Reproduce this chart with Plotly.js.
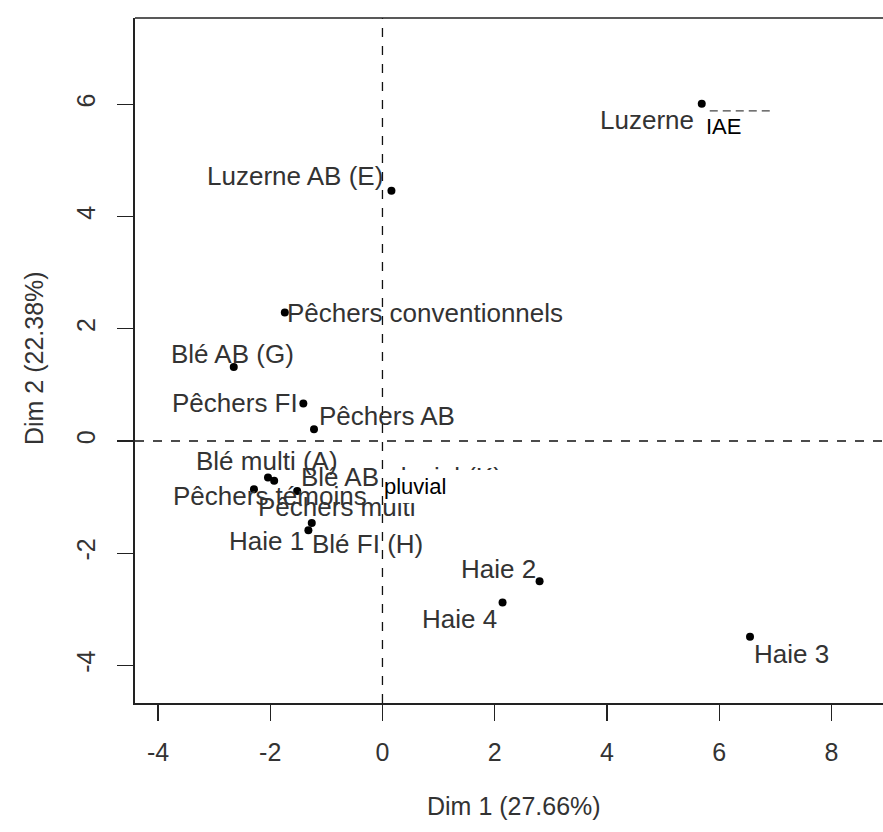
<!DOCTYPE html>
<html>
<head>
<meta charset="utf-8">
<script src="https://cdn.plot.ly/plotly-3.0.1.min.js"></script>
<style>html,body{margin:0;padding:0;background:#fff;}</style>
</head>
<body>
<div id="chart" style="width:883px;height:832px;"></div>
<script>
// ---- data ----
const names = ["Luzerne IAE", "Luzerne AB (E)", "Pêchers conventionnels", "Blé AB (G)", "Pêchers FI",
  "Pêchers AB", "Blé multi (A)", "Blé AB pluvial (K)", "Pêchers témoins", "Pêchers multi",
  "Blé FI (H)", "Haie 1", "Haie 2", "Haie 4", "Haie 3"];
const dim1 = [5.69, 0.16, -1.74, -2.65, -1.41, -1.22, -2.04, -1.93, -2.29, -1.52, -1.26, -1.32, 2.80, 2.14, 6.55];
const dim2 = [6.01, 4.46, 2.29, 1.32, 0.67, 0.21, -0.65, -0.71, -0.86, -0.89, -1.46, -1.59, -2.50, -2.88, -3.49];
// label text as drawn (the first label is partly covered in the original)
const labelText = ["Luzerne", "Luzerne AB (E)", "Pêchers conventionnels", "Blé AB (G)", "Pêchers FI",
  "Pêchers AB", "Blé multi (A)", "Blé AB pluvial (K)", "Pêchers témoins", "Pêchers multi",
  "Blé FI (H)", "Haie 1", "Haie 2", "Haie 4", "Haie 3"];
const xTickVals = [-4, -2, 0, 2, 4, 6, 8];
const xTickText = ["-4", "-2", "0", "2", "4", "6", "8"];
const yTickVals = [-4, -2, 0, 2, 4, 6];
const yTickText = ["-4", "-2", "0", "2", "4", "6"];
const xTitle = "Dim 1 (27.66%)";
const yTitle = "Dim 2 (22.38%)";

// ---- label placement (pixels relative to the point) ----
const labelAnchor = ["right", "right", "left", "center", "right", "left", "center", "left", "left", "left", "left", "right", "right", "right", "left"];
const labelDx = [-8, -8, 2, -1, -5, 5, -1, 27, -81, -39, 0, -4, -4, -6, 4];
const labelDy = [16, -15, 0, -13, 0, -13, -16, -4, 7, 16, 21, 11, -12, 16, 17];

const FONT = "'Liberation Sans', Arial, sans-serif";
const TXT = "#333";

const annotations = [];
for (let i = 0; i < names.length; i++) {
  annotations.push({
    x: dim1[i], y: dim2[i], xref: "x", yref: "y",
    text: labelText[i], showarrow: false,
    xanchor: labelAnchor[i], yanchor: "middle",
    xshift: labelDx[i], yshift: -labelDy[i],
    borderpad: 0, borderwidth: 0,
    font: {family: FONT, size: 26, color: TXT}
  });
}
// white overlay boxes with black text (as in the reference)
annotations.push({
  x: dim1[7], y: dim2[7], xref: "x", yref: "y", text: "pluvial", showarrow: false,
  xanchor: "left", yanchor: "top", xshift: 110, yshift: 11,
  width: 176, height: 33, align: "left", valign: "middle",
  bgcolor: "#ffffff", borderpad: 0, borderwidth: 0,
  font: {family: "Arial, 'Liberation Sans', sans-serif", size: 22, color: "#000"}
});
annotations.push({
  x: dim1[0], y: dim2[0], xref: "x", yref: "y", text: "IAE", showarrow: false,
  xanchor: "left", yanchor: "top", xshift: 4, yshift: -9,
  width: 96, height: 26, align: "left", valign: "middle",
  bgcolor: "#ffffff", borderpad: 0, borderwidth: 0,
  font: {family: "Arial, 'Liberation Sans', sans-serif", size: 22, color: "#000"}
});
// axis titles
annotations.push({
  xref: "paper", yref: "paper", x: 0.507, y: -0.150, text: xTitle, showarrow: false,
  xanchor: "center", yanchor: "middle", font: {family: FONT, size: 25, color: TXT}
});
annotations.push({
  xref: "paper", yref: "paper", x: -0.136, y: 0.504, text: yTitle, showarrow: false,
  textangle: -90, xanchor: "center", yanchor: "middle", font: {family: FONT, size: 25, color: TXT}
});

const shapes = [
  {type: "line", xref: "x", yref: "paper", x0: 0, x1: 0, y0: 0, y1: 1,
   line: {color: "#111", width: 1.3, dash: "dash"}},
  {type: "line", xref: "paper", yref: "y", x0: 0, x1: 1, y0: 0, y1: 0,
   line: {color: "#111", width: 1.3, dash: "dash"}},
  {type: "line", xref: "paper", yref: "paper", x0: 0, x1: 1, y0: 1, y1: 1,
   line: {color: "#222", width: 1.6}},
  // remnant of the hidden label under the "IAE" box
  {type: "line", xref: "x", yref: "y", xsizemode: "pixel", ysizemode: "pixel",
   xanchor: dim1[0], yanchor: dim2[0], x0: 8, x1: 70, y0: -7, y1: -7,
   line: {color: "#444", width: 1.4, dash: "8px,5px"}}
];

const trace = {
  type: "scatter", mode: "markers", x: dim1, y: dim2, text: names,
  marker: {color: "#000", size: 8}, hoverinfo: "text", cliponaxis: false
};

const layout = {
  width: 883, height: 832,
  margin: {l: 135, r: 0, t: 18, b: 129},
  paper_bgcolor: "#fff", plot_bgcolor: "#fff",
  showlegend: false,
  xaxis: {
    range: [-4.41, 8.92], tickvals: xTickVals, ticktext: xTickText,
    showgrid: false, zeroline: false, showline: true, linecolor: "#222", linewidth: 1.6,
    ticks: "outside", ticklen: 16, tickwidth: 1.3, tickcolor: "#222",
    ticklabelstandoff: 10,
    tickfont: {family: FONT, size: 25, color: TXT}
  },
  yaxis: {
    range: [-4.67, 7.54], tickvals: yTickVals, ticktext: yTickText,
    showgrid: false, zeroline: false, showline: true, linecolor: "#222", linewidth: 1.6,
    ticks: "outside", ticklen: 16, tickwidth: 1.3, tickcolor: "#222",
    tickangle: -90, ticklabelstandoff: 12,
    tickfont: {family: FONT, size: 25, color: TXT}
  },
  shapes: shapes,
  annotations: annotations
};

Plotly.newPlot("chart", [trace], layout, {displayModeBar: false, staticPlot: true});
</script>
</body>
</html>
